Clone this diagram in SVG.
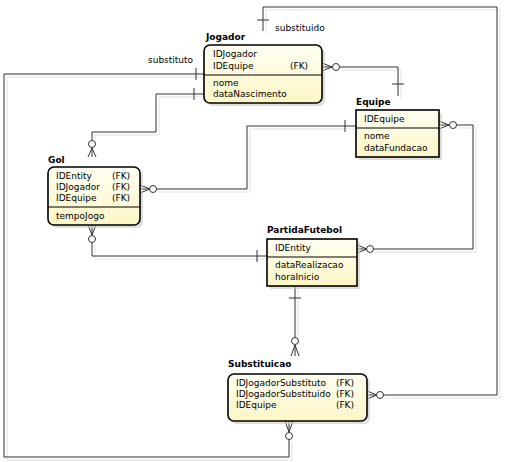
<svg xmlns="http://www.w3.org/2000/svg" xmlns:xlink="http://www.w3.org/1999/xlink" width="505" height="462" viewBox="0 0 505 462">
<style>
.ent{fill:url(#yg);stroke:#000;stroke-width:1.6}
.sh{fill:#c8c8c8;opacity:0.6}
.div{stroke:#000;stroke-width:1}
.t{font-family:"DejaVu Sans",sans-serif;font-size:9px;fill:#000}
.ti{font-family:"DejaVu Sans",sans-serif;font-size:9px;font-weight:bold;fill:#000}
.c{fill:none;stroke:#333;stroke-width:1}
.cs{fill:none;stroke:#e2e2e2;stroke-width:1}
.o{fill:#fff;stroke:#333;stroke-width:1}
</style>
<defs>
<linearGradient id="yg" x1="0" y1="0" x2="0" y2="1">
<stop offset="0" stop-color="#fffff2"/>
<stop offset="1" stop-color="#fdf6c6"/>
</linearGradient>
</defs>
<rect width="505" height="462" fill="#fff"/>
<g id="connectors-shadow" transform="translate(3,3)">
<path class="cs" d="M340 67 H398 V96"/>
<path class="cs" d="M204 94 H156 V132 H92 V141"/>
<path class="cs" d="M156 189 H247 V126 H356"/>
<path class="cs" d="M92 242 V256 H267"/>
<path class="cs" d="M373 249 H473 V125 H456"/>
<path class="cs" d="M295 286 V338"/>
<path class="cs" d="M204 74 H4 V457 H289 V439"/>
<path class="cs" d="M383 395 H497 V7 H263 V31"/>
</g>
<g id="connectors">
<!-- Jogador - Equipe -->
<path class="c" d="M340 67 H398 V96"/>
<path class="c" d="M392 84 H404"/>
<path class="c" d="M322 63 L332 67 L322 71 M322 67 H332"/>
<circle class="o" cx="336" cy="67" r="3.5"/>
<!-- Jogador - Gol -->
<path class="c" d="M204 94 H156 V132 H92 V141"/>
<path class="c" d="M194 88 V100"/>
<circle class="o" cx="92" cy="144" r="3.5"/>
<path class="c" d="M88 157 L92 148 L96 157 M92 148 V157"/>
<!-- Gol - Equipe -->
<path class="c" d="M156 189 H247 V126 H356"/>
<path class="c" d="M345 120 V132"/>
<path class="c" d="M140 185 L150 189 L140 193 M140 189 H150"/>
<circle class="o" cx="153" cy="189" r="3.5"/>
<!-- Gol - PartidaFutebol -->
<path class="c" d="M92 242 V256 H267"/>
<path class="c" d="M257 250 V262"/>
<path class="c" d="M88 225 L92 235 L96 225 M92 225 V235"/>
<circle class="o" cx="92" cy="239" r="3.5"/>
<!-- Equipe - PartidaFutebol -->
<path class="c" d="M373 249 H473 V125 H456"/>
<path class="c" d="M439 121 L449 125 L439 129 M439 125 H449"/>
<circle class="o" cx="453" cy="125" r="3.5"/>
<path class="c" d="M357 245 L367 249 L357 253 M357 249 H367"/>
<circle class="o" cx="370" cy="249" r="3.5"/>
<!-- PartidaFutebol - Substituicao -->
<path class="c" d="M295 286 V338"/>
<path class="c" d="M289 298 H301"/>
<circle class="o" cx="295" cy="341" r="3.5"/>
<path class="c" d="M291 356 L295 345 L299 356 M295 345 V356"/>
<!-- substituto -->
<path class="c" d="M204 74 H4 V457 H289 V439"/>
<path class="c" d="M196 68 V80"/>
<circle class="o" cx="289" cy="436" r="3.5"/>
<path class="c" d="M285 421 L289 432 L293 421 M289 421 V432"/>
<!-- substituido -->
<path class="c" d="M383 395 H497 V7 H263 V31"/>
<path class="c" d="M257 20 H269"/>
<path class="c" d="M367 391 L377 395 L367 399 M367 395 H377"/>
<circle class="o" cx="380" cy="395" r="3.5"/>
<text class="t" x="148" y="63">substituto</text>
<text class="t" x="275" y="31">substituido</text>
</g>
<g id="Jogador">
<rect class="sh" x="207" y="48" width="118" height="58" rx="6"/>
<rect class="ent" x="204" y="45" width="118" height="58" rx="6"/>
<line class="div" x1="204" y1="75" x2="322" y2="75"/>
<text class="ti" x="206" y="40">Jogador</text>
<text class="t" x="213" y="57">IDJogador</text>
<text class="t" x="213" y="69">IDEquipe</text>
<text class="t" x="290" y="69">(FK)</text>
<text class="t" x="213" y="86">nome</text>
<text class="t" x="213" y="97">dataNascimento</text>
</g>
<g id="Equipe">
<rect class="sh" x="359" y="113" width="83" height="47"/>
<rect class="ent" x="356" y="110" width="83" height="47"/>
<line class="div" x1="356" y1="128" x2="439" y2="128"/>
<text class="ti" x="356" y="105">Equipe</text>
<text class="t" x="364" y="122">IDEquipe</text>
<text class="t" x="364" y="139">nome</text>
<text class="t" x="364" y="151">dataFundacao</text>
</g>
<g id="Gol">
<rect class="sh" x="51" y="170" width="92" height="58" rx="6"/>
<rect class="ent" x="48" y="167" width="92" height="58" rx="6"/>
<line class="div" x1="48" y1="207" x2="140" y2="207"/>
<text class="ti" x="48" y="163">Gol</text>
<text class="t" x="56" y="179">IDEntity</text>
<text class="t" x="112" y="179">(FK)</text>
<text class="t" x="56" y="190">IDJogador</text>
<text class="t" x="112" y="190">(FK)</text>
<text class="t" x="56" y="201">IDEquipe</text>
<text class="t" x="112" y="201">(FK)</text>
<text class="t" x="56" y="219">tempoJogo</text>
</g>
<g id="PartidaFutebol">
<rect class="sh" x="270" y="242" width="90" height="47"/>
<rect class="ent" x="267" y="239" width="90" height="47"/>
<line class="div" x1="267" y1="257" x2="357" y2="257"/>
<text class="ti" x="267" y="233">PartidaFutebol</text>
<text class="t" x="275" y="251">IDEntity</text>
<text class="t" x="275" y="268">dataRealizacao</text>
<text class="t" x="275" y="280">horaInicio</text>
</g>
<g id="Substituicao">
<rect class="sh" x="231" y="377" width="139" height="47" rx="6"/>
<rect class="ent" x="228" y="374" width="139" height="47" rx="6"/>
<text class="ti" x="228" y="367">Substituicao</text>
<text class="t" x="236" y="386">IDJogadorSubstituto</text>
<text class="t" x="354" y="386" text-anchor="end">(FK)</text>
<text class="t" x="236" y="397">IDJogadorSubstituido</text>
<text class="t" x="354" y="397" text-anchor="end">(FK)</text>
<text class="t" x="236" y="408">IDEquipe</text>
<text class="t" x="354" y="408" text-anchor="end">(FK)</text>
</g>
</svg>
